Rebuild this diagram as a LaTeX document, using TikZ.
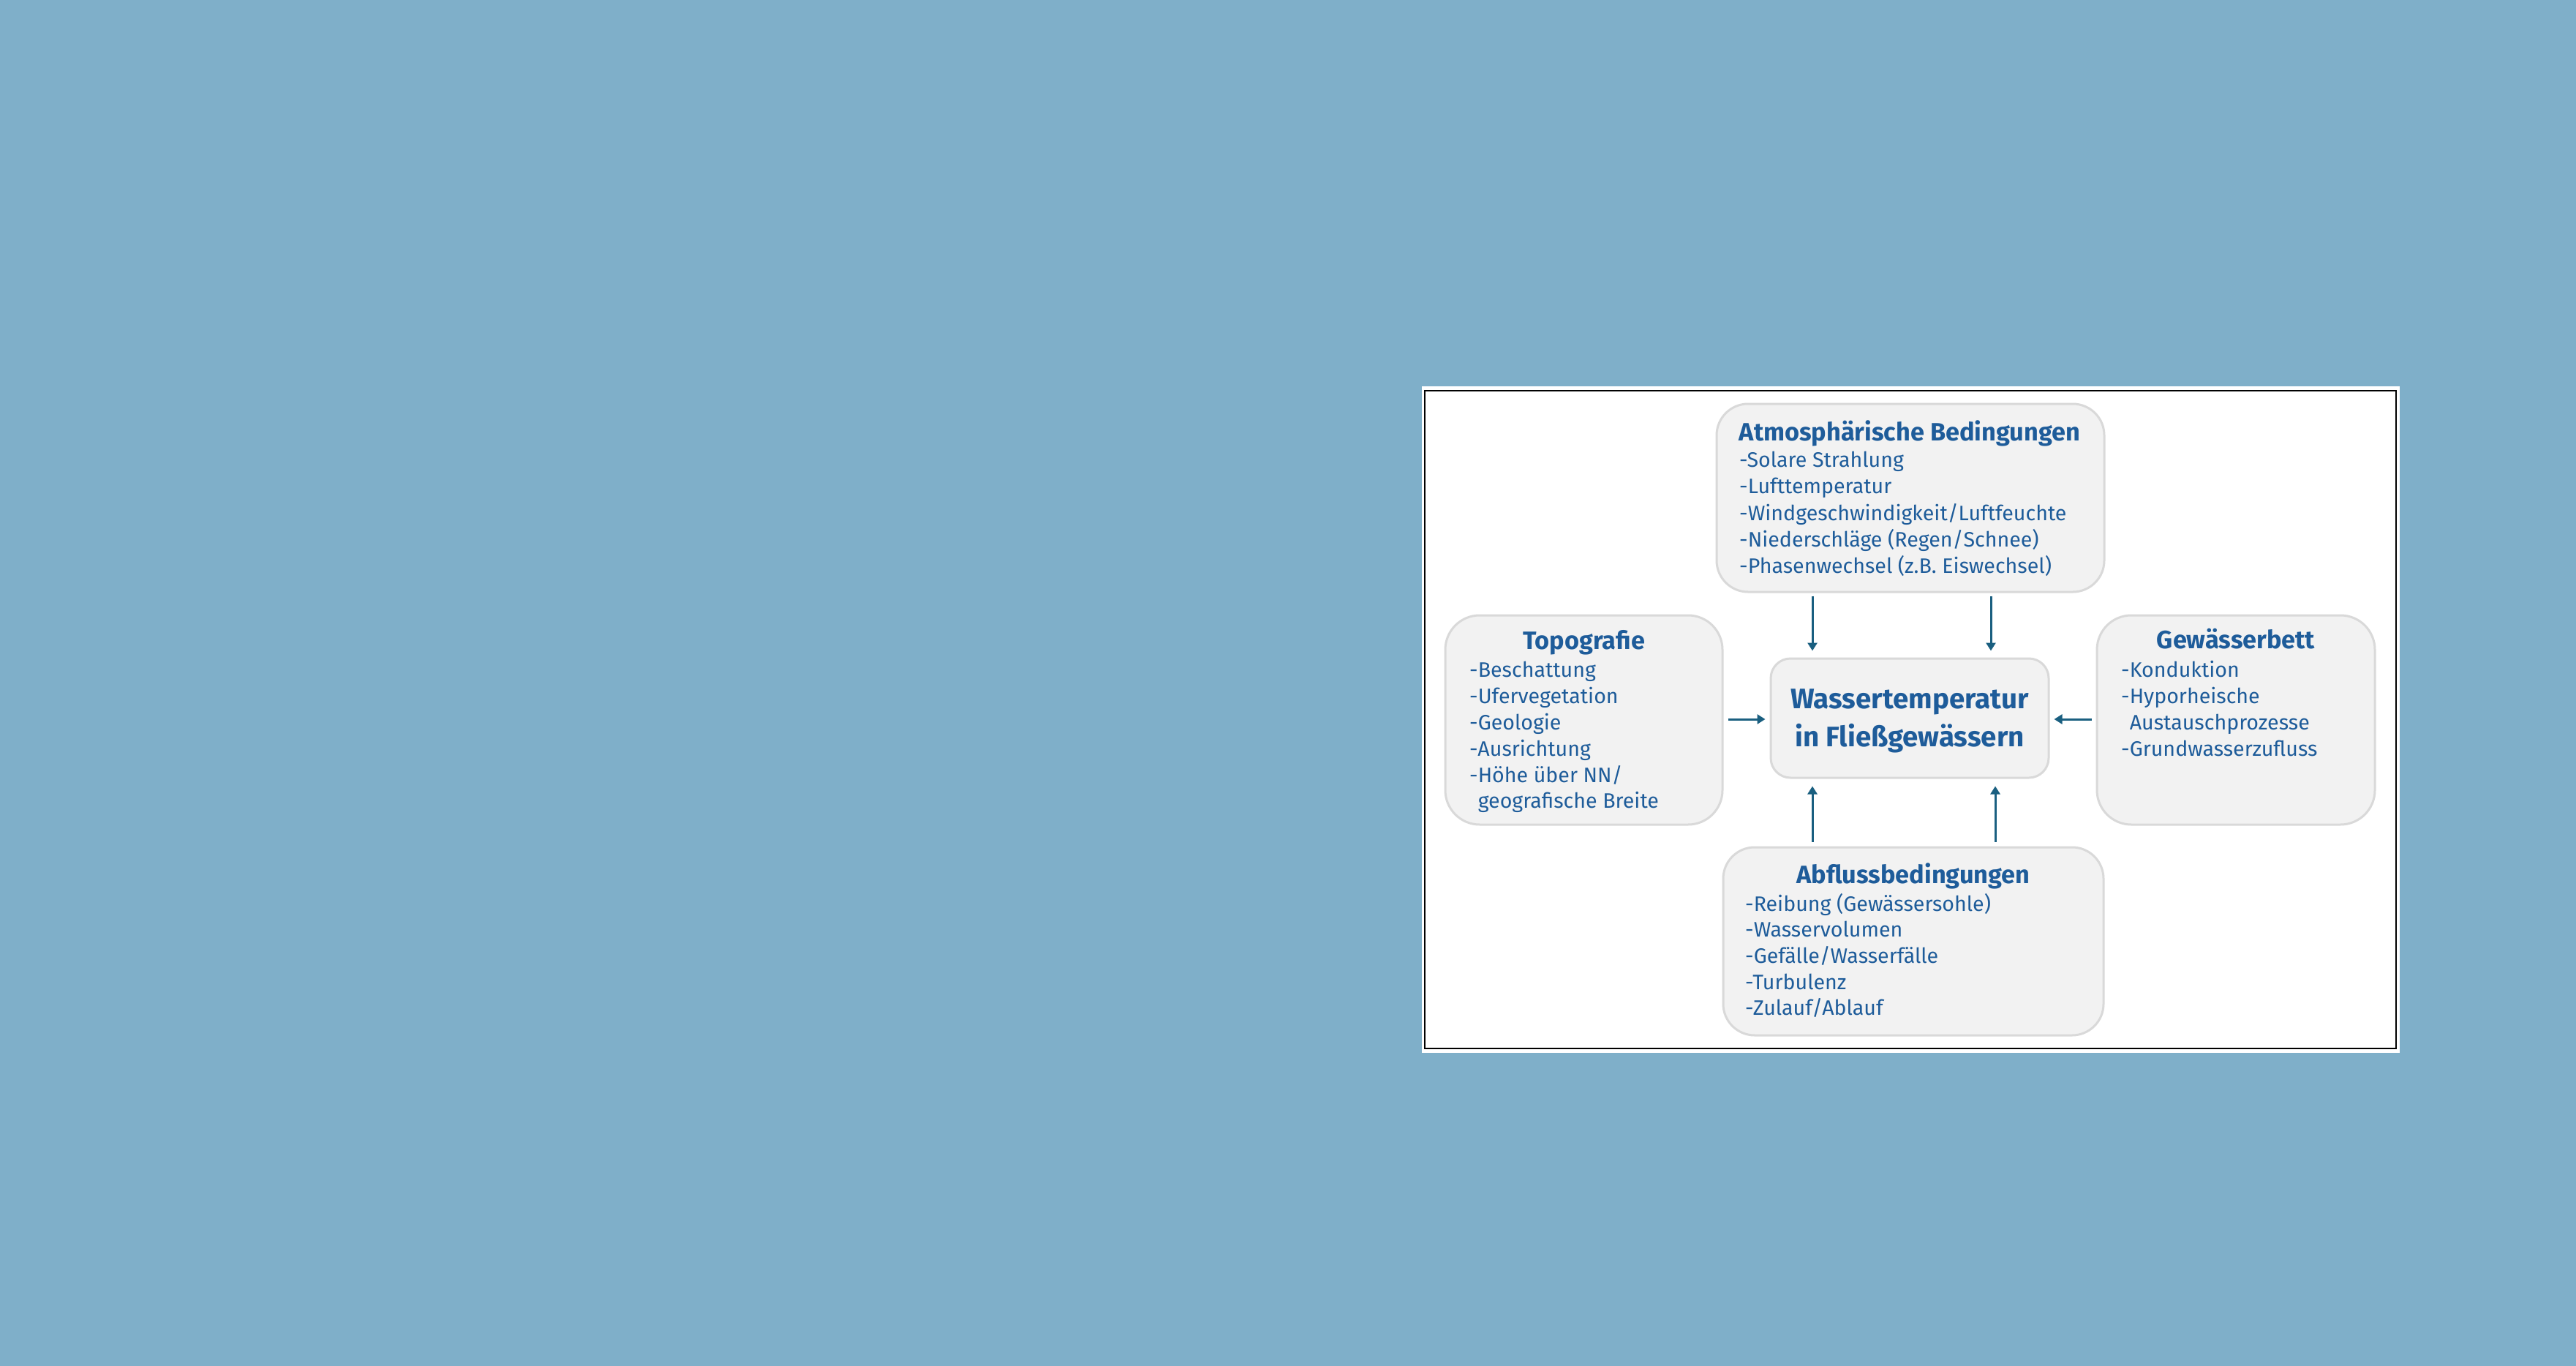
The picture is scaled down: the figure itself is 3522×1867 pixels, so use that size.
\documentclass[tikz,border=0pt]{standalone}
\usepackage{fontspec}
\setmainfont{Fira Sans}
\usetikzlibrary{arrows.meta}
\definecolor{bgblue}{HTML}{7FAFC9}
\definecolor{txtblue}{HTML}{1E5C9A}
\definecolor{arrcol}{HTML}{1A5F80}
\definecolor{boxfill}{HTML}{F2F2F2}
\definecolor{boxline}{HTML}{D9D9D9}
\tikzset{
  box/.style={draw=boxline, fill=boxfill, line width=3pt, inner sep=0pt},
  ttl/.style={text=txtblue, font=\fontsize{34.3}{40}\selectfont\bfseries, inner sep=0pt, anchor=base},
  itm/.style={text=txtblue, font=\fontsize{28.6}{34}\selectfont, inner sep=0pt, anchor=base west},
  ctrtxt/.style={text=txtblue, font=\fontsize{38.5}{44}\selectfont\bfseries, inner sep=0pt, anchor=base},
  arr/.style={draw=arrcol, line width=3pt, -{Triangle[length=11pt,width=13pt]}},
}
\begin{document}
\begin{tikzpicture}[x=1pt,y=-1pt]
\useasboundingbox (0,0) rectangle (3522,1867);
\fill[bgblue] (0,0) rectangle (3522,1867);
% frame
\fill[white] (1944,528) rectangle (3281,1439);
\draw[black, line width=2.5pt] (1948,534) rectangle (3276,1433);
% boxes
\node[box, minimum width=530pt, minimum height=257pt, rounded corners=43pt] (atm) at (2612,680.5) {};
\node[box, minimum width=379pt, minimum height=286pt, rounded corners=47pt] (topo) at (2165.5,984) {};
\node[box, minimum width=380pt, minimum height=163pt, rounded corners=27pt] (ctr) at (2611,981.5) {};
\node[box, minimum width=380pt, minimum height=286pt, rounded corners=47pt] (gew) at (3057,984) {};
\node[box, minimum width=520pt, minimum height=257pt, rounded corners=43pt] (abf) at (2616,1286.5) {};
% atmos text
\node[ttl] (atmT) at (2611,602) {Atmosphärische Bedingungen};
\node[itm] (atm1) at (2378,638) {-Solare Strahlung};
\node[itm] (atm2) at (2378,674) {-Lufttemperatur};
\node[itm] (atm3) at (2378,711) {-Windgeschwindigkeit/Luftfeuchte};
\node[itm] (atm4) at (2378,747) {-Niederschläge (Regen/Schnee)};
\node[itm] (atm5) at (2378,783) {-Phasenwechsel (z.B. Eiswechsel)};
% topografie text
\node[ttl] (topoT) at (2165.5,887) {Topografie};
\node[itm] (topo1) at (2009,925) {-Beschattung};
\node[itm] (topo2) at (2009,961) {-Ufervegetation};
\node[itm] (topo3) at (2009,997) {-Geologie};
\node[itm] (topo4) at (2009,1033) {-Ausrichtung};
\node[itm] (topo5) at (2009,1069) {-Höhe über NN/};
\node[itm] (topo6) at (2009,1104) {\phantom{-}geografische Breite};
% center text
\node[ctrtxt] (ctr1) at (2611,968) {Wassertemperatur};
\node[ctrtxt] (ctr2) at (2611,1020) {in Fließgewässern};
% gewaesserbett text
\node[ttl] (gewT) at (3057,886) {Gewässerbett};
\node[itm] (gew1) at (2900,925) {-Konduktion};
\node[itm] (gew2) at (2900,961) {-Hyporheische};
\node[itm] (gew3) at (2900,997) {\phantom{-}Austauschprozesse};
\node[itm] (gew4) at (2900,1033) {-Grundwasserzufluss};
% abfluss text
\node[ttl] (abfT) at (2616,1207) {Abflussbedingungen};
\node[itm] (abf1) at (2386,1245) {-Reibung (Gewässersohle)};
\node[itm] (abf2) at (2386,1280) {-Wasservolumen};
\node[itm] (abf3) at (2386,1316) {-Gefälle/Wasserfälle};
\node[itm] (abf4) at (2386,1352) {-Turbulenz};
\node[itm] (abf5) at (2386,1387) {-Zulauf/Ablauf};
% arrows
\draw[arr, shorten <=4pt, shorten >=9pt] (atm.south -| 2478,0) -- (ctr.north -| 2478,0);
\draw[arr, shorten <=4pt, shorten >=9pt] (atm.south -| 2722,0) -- (ctr.north -| 2722,0);
\draw[arr, shorten <=6pt, shorten >=6pt] (topo.east |- 0,983) -- (ctr.west |- 0,983);
\draw[arr, shorten <=6pt, shorten >=6pt] (gew.west |- 0,983) -- (ctr.east |- 0,983);
\draw[arr, shorten <=6pt, shorten >=10pt] (abf.north -| 2478,0) -- (ctr.south -| 2478,0);
\draw[arr, shorten <=6pt, shorten >=10pt] (abf.north -| 2728,0) -- (ctr.south -| 2728,0);
\end{tikzpicture}
\end{document}
